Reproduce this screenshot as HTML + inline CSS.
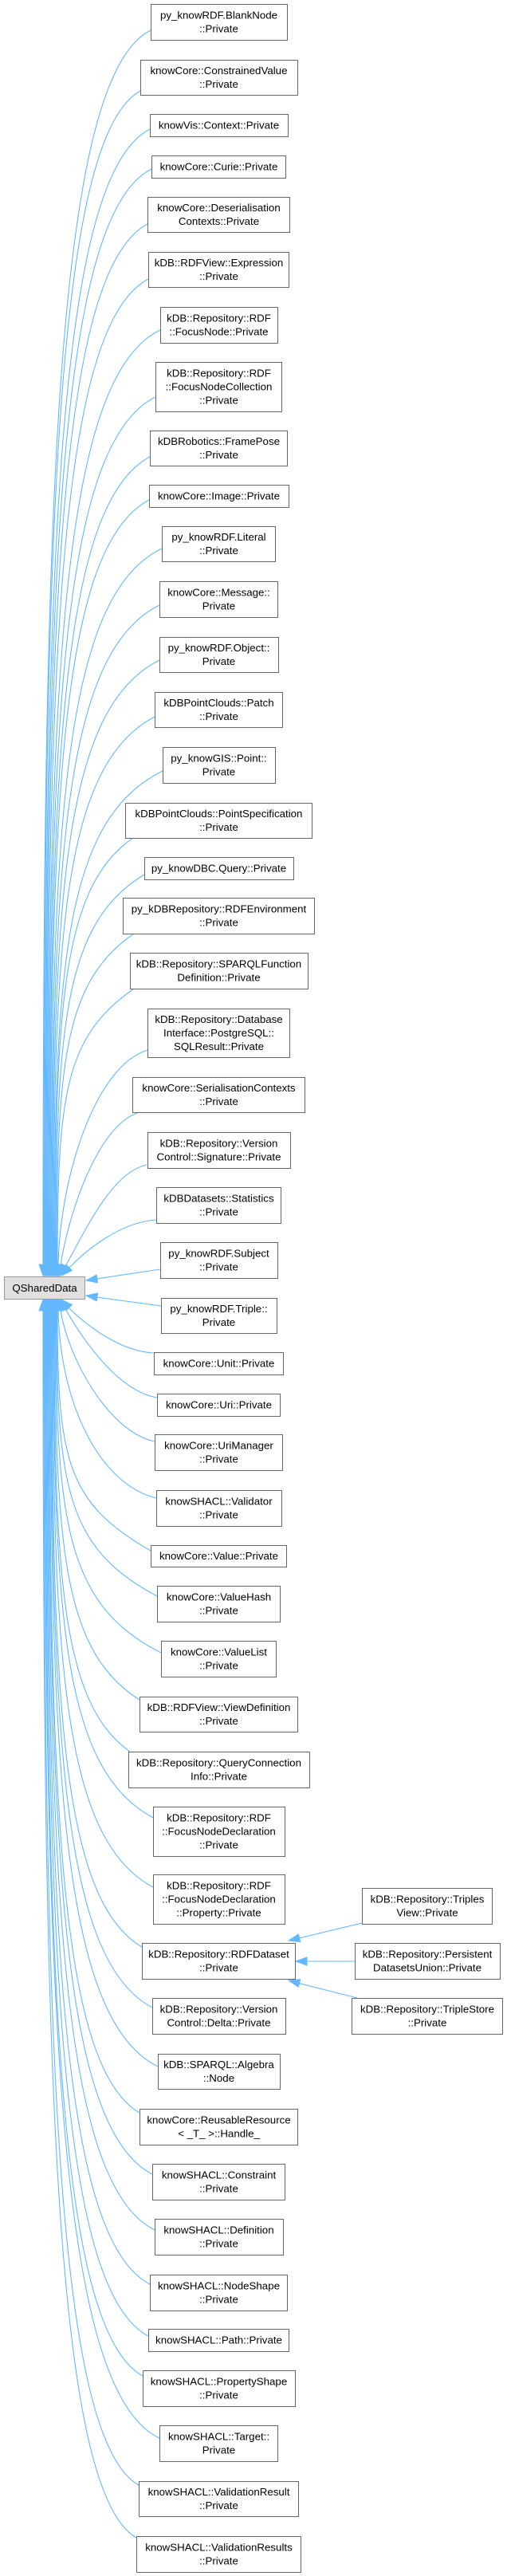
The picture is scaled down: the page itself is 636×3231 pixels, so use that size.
<!DOCTYPE html>
<html><head><meta charset="utf-8"><style>
html,body{margin:0;padding:0;background:#fff;}
svg{display:block;}
text{font-family:"Liberation Sans",sans-serif;font-size:13.3px;fill:#000;text-anchor:middle;}
.e{fill:none;stroke:#63b8ff;stroke-width:1.1;}
.a{fill:#63b8ff;stroke:#63b8ff;stroke-width:1;}
.n{fill:#fff;stroke:#666;stroke-width:1;}
</style></head><body>
<svg width="636" height="3231" viewBox="0 0 636 3231" xmlns="http://www.w3.org/2000/svg">
<!-- upper edges -->
<path class="e" d="M189,38 C67.5,98 54,650 54,1587"/>
<path class="e" d="M176,114 C67,174 55,695 55,1587"/>
<path class="e" d="M188,162 C69,222 56,724 56,1587"/>
<path class="e" d="M190,212 C70,272 57,754 57,1587"/>
<path class="e" d="M185,281 C71,341 58,796 58,1587"/>
<path class="e" d="M186,350 C72,410 59,837 59,1587"/>
<path class="e" d="M201,414 C74,474 60,875 60,1587"/>
<path class="e" d="M195,498 C74,558 61,926 61,1587"/>
<path class="e" d="M188,573 C75,633 62,971 62,1587"/>
<path class="e" d="M187,627 C75,687 63,1003 63,1587"/>
<path class="e" d="M203,688 C78,748 64,1040 64,1587"/>
<path class="e" d="M200,759 C79,819 65,1082 65,1587"/>
<path class="e" d="M200,828 C79,888 66,1124 66,1587"/>
<path class="e" d="M194,899 C80,959 67,1166 67,1587"/>
<path class="e" d="M204,967 C82,1027 68,1207 68,1587"/>
<path class="e" d="M167,1051 C79,1111 69,1258 69,1587"/>
<path class="e" d="M181,1097 C81,1157 70,1285 70,1587"/>
<path class="e" d="M168,1171 C81,1231 71,1330 71,1587"/>
<path class="e" d="M168,1240 C82,1300 72,1371 72,1587"/>
<path class="e" d="M185,1317 C118,1338 75,1480 73,1587"/>
<path class="e" d="M172,1396 C120,1415 85,1528 76,1587"/>
<path class="e" d="M184,1461 C140,1470 106.5,1545 81.5,1589"/>
<path class="e" d="M196,1530 C150,1533 107,1569 86,1591"/>
<path class="e" d="M201,1592 L121,1604"/>
<path class="e" d="M202,1638 L121,1627"/>
<!-- upper arrowheads -->
<g class="a">
<polygon points="54,1600 49,1586 59,1586"/>
<polygon points="55,1600 50,1586 60,1586"/>
<polygon points="56,1600 51,1586 61,1586"/>
<polygon points="57,1600 52,1586 62,1586"/>
<polygon points="58,1600 53,1586 63,1586"/>
<polygon points="59,1600 54,1586 64,1586"/>
<polygon points="60,1600 55,1586 65,1586"/>
<polygon points="61,1600 56,1586 66,1586"/>
<polygon points="62,1600 57,1586 67,1586"/>
<polygon points="63,1600 58,1586 68,1586"/>
<polygon points="64,1600 59,1586 69,1586"/>
<polygon points="65,1600 60,1586 70,1586"/>
<polygon points="66,1600 61,1586 71,1586"/>
<polygon points="67,1600 62,1586 72,1586"/>
<polygon points="68,1600 63,1586 73,1586"/>
<polygon points="69,1600 64,1586 74,1586"/>
<polygon points="70,1600 65,1586 75,1586"/>
<polygon points="71,1600 66,1586 76,1586"/>
<polygon points="72,1600 67,1586 77,1586"/>
<polygon points="73,1600 68,1586 78,1586"/>
<polygon points="74,1600 81.05,1586.85 71.15,1585.35"/>
<polygon points="75,1600 86.3,1590.4 77.7,1585.4"/>
<polygon points="77,1600 90.4,1593.5 83.2,1586.5"/>
<polygon points="108,1606 122.5,1608.9 121.1,1599"/>
<polygon points="108,1625 121.2,1631.9 122.6,1622"/>
</g>
<!-- lower edges -->
<path class="e" d="M193,1697 C150,1695 107,1661 86,1640"/>
<path class="e" d="M197,1753 C150,1745 106.5,1685 81.5,1641"/>
<path class="e" d="M194,1808 C135,1795 85,1702 76,1643"/>
<path class="e" d="M196,1879 C125,1862 75,1760 73,1643"/>
<path class="e" d="M189,1945 C84,1885 72,1832 72,1643"/>
<path class="e" d="M197,2002 C84,1942 71,1866 71,1643"/>
<path class="e" d="M202,2073 C83,2013 70,1909 70,1643"/>
<path class="e" d="M175,2132 C80,2072 69,1944 69,1643"/>
<path class="e" d="M163,2197 C78,2137 68,1983 68,1643"/>
<path class="e" d="M192,2280 C80,2220 67,2033 67,1643"/>
<path class="e" d="M192,2367 C79,2307 66,2085 66,1643"/>
<path class="e" d="M178,2442 C76,2382 65,2130 65,1643"/>
<path class="e" d="M191,2518 C77,2458 64,2176 64,1643"/>
<path class="e" d="M198,2592 C77,2532 63,2220 63,1643"/>
<path class="e" d="M175,2650 C73,2590 62,2255 62,1643"/>
<path class="e" d="M191,2727 C74,2667 61,2301 61,1643"/>
<path class="e" d="M194,2797 C73,2737 60,2343 60,1643"/>
<path class="e" d="M188,2865 C72,2805 59,2384 59,1643"/>
<path class="e" d="M186,2930 C71,2870 58,2423 58,1643"/>
<path class="e" d="M179,2980 C69,2920 57,2453 57,1643"/>
<path class="e" d="M200,3058 C70,2998 56,2500 56,1643"/>
<path class="e" d="M174,3117 C67,3057 55,2535 55,1643"/>
<path class="e" d="M171,3183 C66,3123 54,2575 54,1643"/>
<!-- lower arrowheads -->
<g class="a">
<polygon points="77,1630 90.4,1636.5 83.2,1643.5"/>
<polygon points="75,1630 86.3,1639.6 77.7,1644.6"/>
<polygon points="74,1630 81.05,1643.15 71.15,1644.65"/>
<polygon points="73,1630 68,1644 78,1644"/>
<polygon points="72,1630 67,1644 77,1644"/>
<polygon points="71,1630 66,1644 76,1644"/>
<polygon points="70,1630 65,1644 75,1644"/>
<polygon points="69,1630 64,1644 74,1644"/>
<polygon points="68,1630 63,1644 73,1644"/>
<polygon points="67,1630 62,1644 72,1644"/>
<polygon points="66,1630 61,1644 71,1644"/>
<polygon points="65,1630 60,1644 70,1644"/>
<polygon points="64,1630 59,1644 69,1644"/>
<polygon points="63,1630 58,1644 68,1644"/>
<polygon points="62,1630 57,1644 67,1644"/>
<polygon points="61,1630 56,1644 66,1644"/>
<polygon points="60,1630 55,1644 65,1644"/>
<polygon points="59,1630 54,1644 64,1644"/>
<polygon points="58,1630 53,1644 63,1644"/>
<polygon points="57,1630 52,1644 62,1644"/>
<polygon points="56,1630 51,1644 61,1644"/>
<polygon points="55,1630 50,1644 60,1644"/>
<polygon points="54,1630 49,1644 59,1644"/>
</g>
<!-- RDFDataset children edges -->
<path class="e" d="M454,2412 L375,2431"/>
<path class="e" d="M445,2460 L385,2460"/>
<path class="e" d="M448,2506 L375,2487.5"/>
<g class="a">
<polygon points="362,2434 376.8,2435.6 374.4,2425.9"/>
<polygon points="371,2460 385,2455 385,2465"/>
<polygon points="362,2484 374.3,2492.3 376.8,2482.7"/>
</g>

<!-- QSharedData -->
<rect x="5.5" y="1601.5" width="101" height="28" fill="#e0e0e0" stroke="#999" stroke-width="1"/>
<text x="56" y="1620">QSharedData</text>

<!-- nodes -->
<rect class="n" x="189.5" y="5.5" width="171" height="45"/>
<text x="274.5" y="23.5">py_knowRDF.BlankNode</text><text x="274.5" y="40.5">::Private</text>

<rect class="n" x="176.5" y="75.5" width="197" height="44"/>
<text x="274.5" y="93">knowCore::ConstrainedValue</text><text x="274.5" y="110">::Private</text>

<rect class="n" x="188.5" y="143.5" width="173" height="28"/>
<text x="274.5" y="161.5">knowVis::Context::Private</text>

<rect class="n" x="190.5" y="195.5" width="168" height="28"/>
<text x="274.5" y="213.5">knowCore::Curie::Private</text>

<rect class="n" x="185.5" y="247.5" width="178" height="44"/>
<text x="274.5" y="265">knowCore::Deserialisation</text><text x="274.5" y="282">Contexts::Private</text>

<rect class="n" x="186.5" y="316.5" width="176" height="44"/>
<text x="274.5" y="334">kDB::RDFView::Expression</text><text x="274.5" y="351">::Private</text>

<rect class="n" x="201.5" y="385.5" width="147" height="45"/>
<text x="274.5" y="403.5">kDB::Repository::RDF</text><text x="274.5" y="420.5">::FocusNode::Private</text>

<rect class="n" x="195.5" y="454.5" width="158" height="62"/>
<text x="274.5" y="472.5">kDB::Repository::RDF</text><text x="274.5" y="489.5">::FocusNodeCollection</text><text x="274.5" y="506.5">::Private</text>

<rect class="n" x="188.5" y="540.5" width="172" height="44"/>
<text x="274.5" y="558">kDBRobotics::FramePose</text><text x="274.5" y="575">::Private</text>

<rect class="n" x="187.5" y="608.5" width="175" height="28"/>
<text x="274.5" y="626.5">knowCore::Image::Private</text>

<rect class="n" x="203.5" y="660.5" width="142" height="44"/>
<text x="274.5" y="678">py_knowRDF.Literal</text><text x="274.5" y="695">::Private</text>

<rect class="n" x="200.5" y="729.5" width="148" height="45"/>
<text x="274.5" y="747.5">knowCore::Message::</text><text x="274.5" y="764.5">Private</text>

<rect class="n" x="200.5" y="799.5" width="149" height="44"/>
<text x="274.5" y="817">py_knowRDF.Object::</text><text x="274.5" y="834">Private</text>

<rect class="n" x="194.5" y="868.5" width="160" height="44"/>
<text x="274.5" y="886">kDBPointClouds::Patch</text><text x="274.5" y="903">::Private</text>

<rect class="n" x="204.5" y="937.5" width="141" height="45"/>
<text x="274.5" y="955.5">py_knowGIS::Point::</text><text x="274.5" y="972.5">Private</text>

<rect class="n" x="157.5" y="1007.5" width="234" height="44"/>
<text x="274.5" y="1025">kDBPointClouds::PointSpecification</text><text x="274.5" y="1042">::Private</text>

<rect class="n" x="181.5" y="1075.5" width="187" height="28"/>
<text x="274.5" y="1093.5">py_knowDBC.Query::Private</text>

<rect class="n" x="154.5" y="1126.5" width="240" height="45"/>
<text x="274.5" y="1144.5">py_kDBRepository::RDFEnvironment</text><text x="274.5" y="1161.5">::Private</text>

<rect class="n" x="163.5" y="1195.5" width="223" height="45"/>
<text x="274.5" y="1213.5">kDB::Repository::SPARQLFunction</text><text x="274.5" y="1230.5">Definition::Private</text>

<rect class="n" x="185.5" y="1265.5" width="178" height="61"/>
<text x="274.5" y="1283">kDB::Repository::Database</text><text x="274.5" y="1300">Interface::PostgreSQL::</text><text x="274.5" y="1317">SQLResult::Private</text>

<rect class="n" x="166.5" y="1351.5" width="216" height="44"/>
<text x="274.5" y="1369">knowCore::SerialisationContexts</text><text x="274.5" y="1386">::Private</text>

<rect class="n" x="185.5" y="1420.5" width="179" height="45"/>
<text x="274.5" y="1438.5">kDB::Repository::Version</text><text x="274.5" y="1455.5">Control::Signature::Private</text>

<rect class="n" x="196.5" y="1489.5" width="156" height="45"/>
<text x="274.5" y="1507.5">kDBDatasets::Statistics</text><text x="274.5" y="1524.5">::Private</text>

<rect class="n" x="201.5" y="1558.5" width="147" height="45"/>
<text x="274.5" y="1576.5">py_knowRDF.Subject</text><text x="274.5" y="1593.5">::Private</text>

<rect class="n" x="202.5" y="1628.5" width="145" height="44"/>
<text x="274.5" y="1646">py_knowRDF.Triple::</text><text x="274.5" y="1663">Private</text>

<rect class="n" x="193.5" y="1696.5" width="162" height="28"/>
<text x="274.5" y="1714.5">knowCore::Unit::Private</text>

<rect class="n" x="197.5" y="1748.5" width="154" height="28"/>
<text x="274.5" y="1766.5">knowCore::Uri::Private</text>

<rect class="n" x="194.5" y="1799.5" width="160" height="45"/>
<text x="274.5" y="1817.5">knowCore::UriManager</text><text x="274.5" y="1834.5">::Private</text>

<rect class="n" x="196.5" y="1869.5" width="157" height="45"/>
<text x="274.5" y="1887.5">knowSHACL::Validator</text><text x="274.5" y="1904.5">::Private</text>

<rect class="n" x="189.5" y="1938.5" width="170" height="27"/>
<text x="274.5" y="1956">knowCore::Value::Private</text>

<rect class="n" x="197.5" y="1989.5" width="154" height="45"/>
<text x="274.5" y="2007.5">knowCore::ValueHash</text><text x="274.5" y="2024.5">::Private</text>

<rect class="n" x="202.5" y="2058.5" width="144" height="45"/>
<text x="274.5" y="2076.5">knowCore::ValueList</text><text x="274.5" y="2093.5">::Private</text>

<rect class="n" x="175.5" y="2128.5" width="198" height="44"/>
<text x="274.5" y="2146">kDB::RDFView::ViewDefinition</text><text x="274.5" y="2163">::Private</text>

<rect class="n" x="161.5" y="2197.5" width="227" height="45"/>
<text x="274.5" y="2215.5">kDB::Repository::QueryConnection</text><text x="274.5" y="2232.5">Info::Private</text>

<rect class="n" x="192.5" y="2266.5" width="165" height="62"/>
<text x="274.5" y="2284.5">kDB::Repository::RDF</text><text x="274.5" y="2301.5">::FocusNodeDeclaration</text><text x="274.5" y="2318.5">::Private</text>

<rect class="n" x="192.5" y="2351.5" width="165" height="62"/>
<text x="274.5" y="2369.5">kDB::Repository::RDF</text><text x="274.5" y="2386.5">::FocusNodeDeclaration</text><text x="274.5" y="2403.5">::Property::Private</text>

<rect class="n" x="178.5" y="2437.5" width="192" height="45"/>
<text x="274.5" y="2455.5">kDB::Repository::RDFDataset</text><text x="274.5" y="2472.5">::Private</text>

<rect class="n" x="191.5" y="2506.5" width="167" height="45"/>
<text x="274.5" y="2524.5">kDB::Repository::Version</text><text x="274.5" y="2541.5">Control::Delta::Private</text>

<rect class="n" x="198.5" y="2576.5" width="153" height="44"/>
<text x="274.5" y="2594">kDB::SPARQL::Algebra</text><text x="274.5" y="2611">::Node</text>

<rect class="n" x="175.5" y="2645.5" width="198" height="45"/>
<text x="274.5" y="2663.5">knowCore::ReusableResource</text><text x="274.5" y="2680.5">&lt; _T_ &gt;::Handle_</text>

<rect class="n" x="191.5" y="2714.5" width="166" height="45"/>
<text x="274.5" y="2732.5">knowSHACL::Constraint</text><text x="274.5" y="2749.5">::Private</text>

<rect class="n" x="194.5" y="2783.5" width="161" height="45"/>
<text x="274.5" y="2801.5">knowSHACL::Definition</text><text x="274.5" y="2818.5">::Private</text>

<rect class="n" x="188.5" y="2853.5" width="172" height="45"/>
<text x="274.5" y="2871.5">knowSHACL::NodeShape</text><text x="274.5" y="2888.5">::Private</text>

<rect class="n" x="186.5" y="2921.5" width="176" height="28"/>
<text x="274.5" y="2939.5">knowSHACL::Path::Private</text>

<rect class="n" x="179.5" y="2973.5" width="191" height="45"/>
<text x="274.5" y="2991.5">knowSHACL::PropertyShape</text><text x="274.5" y="3008.5">::Private</text>

<rect class="n" x="200.5" y="3042.5" width="148" height="45"/>
<text x="274.5" y="3060.5">knowSHACL::Target::</text><text x="274.5" y="3077.5">Private</text>

<rect class="n" x="174.5" y="3112.5" width="200" height="44"/>
<text x="274.5" y="3130">knowSHACL::ValidationResult</text><text x="274.5" y="3147">::Private</text>

<rect class="n" x="171.5" y="3181.5" width="206" height="45"/>
<text x="274.5" y="3199.5">knowSHACL::ValidationResults</text><text x="274.5" y="3216.5">::Private</text>

<!-- right column -->
<rect class="n" x="454.5" y="2368.5" width="163" height="45"/>
<text x="536" y="2386.5">kDB::Repository::Triples</text><text x="536" y="2403.5">View::Private</text>

<rect class="n" x="445.5" y="2437.5" width="182" height="45"/>
<text x="536" y="2455.5">kDB::Repository::Persistent</text><text x="536" y="2472.5">DatasetsUnion::Private</text>

<rect class="n" x="441.5" y="2506.5" width="189" height="45"/>
<text x="536" y="2524.5">kDB::Repository::TripleStore</text><text x="536" y="2541.5">::Private</text>
</svg>
</body></html>
